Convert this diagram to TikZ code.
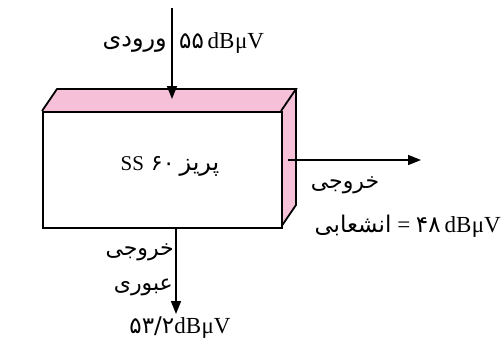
\documentclass[tikz,border=0pt]{standalone}
\usepackage{fontspec}
\setmainfont{Liberation Serif}
\newfontfamily\arabicfont[Script=Arabic]{DejaVu Sans}
\TeXXeTstate=1
\usetikzlibrary{arrows.meta}
\definecolor{facepink}{RGB}{245,192,216}
\newcommand{\fadig}[1]{{\arabicfont\fontsize{23}{26}\selectfont #1}}
\tikzset{
  outline/.style={line width=1.8pt, line join=miter},
  sig/.style={line width=1.6pt, -{Triangle[length=13pt,width=10pt]}},
  lbl/.style={inner sep=0pt, font=\fontsize{23}{26}\selectfont},
  fa/.style={inner sep=0pt, font=\arabicfont\fontsize{22}{26}\selectfont},
}
\begin{document}
\begin{tikzpicture}[x=1pt,y=-1pt]
\useasboundingbox (0,0) rectangle (502,346);
% box corners
\coordinate (ftl) at (42,111);
\coordinate (ftr) at (281,111);
\coordinate (fbr) at (281,227);
\coordinate (fbl) at (42,227);
\coordinate (btl) at (57,89);
\coordinate (btr) at (296,89);
\coordinate (bbr) at (296,205);
\fill[facepink] (ftl) -- (btl) -- (btr) -- (ftr) -- cycle;
\fill[facepink] (ftr) -- (btr) -- (bbr) -- (fbr) -- cycle;
\draw[outline] (ftl) -- (btl) -- (btr) -- (ftr);
\draw[outline] (btr) -- (bbr) -- (fbr);
\node[outline, draw, fill=white, minimum width=239pt, minimum height=116pt, inner sep=0pt, anchor=north west] (front) at (ftl) {};
% center label
\node[inner sep=0pt, font=\fontsize{21}{24}\selectfont] (name) at (170,166) {SS\hspace{7pt}{\arabicfont\fontsize{22}{24}\selectfont ۶۰}\hspace{5pt}{\arabicfont\fontsize{24}{26}\selectfont\beginR پریز\endR}};
% input
\coordinate (inTop) at (172,8);
\coordinate (inTip) at (172,99);
\draw[sig] (inTop) -- (inTip);
\node[fa, font=\arabicfont\fontsize{24}{26}\selectfont, anchor=east] (inlbl) at (167,44) {\beginR ورودی\endR};
\node[lbl, anchor=west] (inval) at (179,43) {\fadig{۵۵}\,dB\kern0.5pt μV};
% tap output
\coordinate (tapStart) at (288,160);
\coordinate (tapTip) at (421,160);
\draw[sig] (tapStart) -- (tapTip);
\node[fa] (taplbl) at (345,185) {\beginR خروجی\endR};
\node[lbl, anchor=east] (tapval) at (501,226) {{\arabicfont\fontsize{23}{26}\selectfont\beginR انشعابی\endR}~= \fadig{۴۸}\,dB\kern0.5pt μV};
% through output
\coordinate (thrTip) at (176,314);
\draw[sig] (front.south -| thrTip) -- (thrTip);
\node[fa, anchor=east] (thrlbl1) at (174,252) {\beginR خروجی\endR};
\node[fa, anchor=east] (thrlbl2) at (173,287) {\beginR عبوری\endR};
\node[lbl] (thrval) at (180,328) {\fadig{۵۳/۲}dB\kern0.5pt μV};
\end{tikzpicture}
\end{document}
